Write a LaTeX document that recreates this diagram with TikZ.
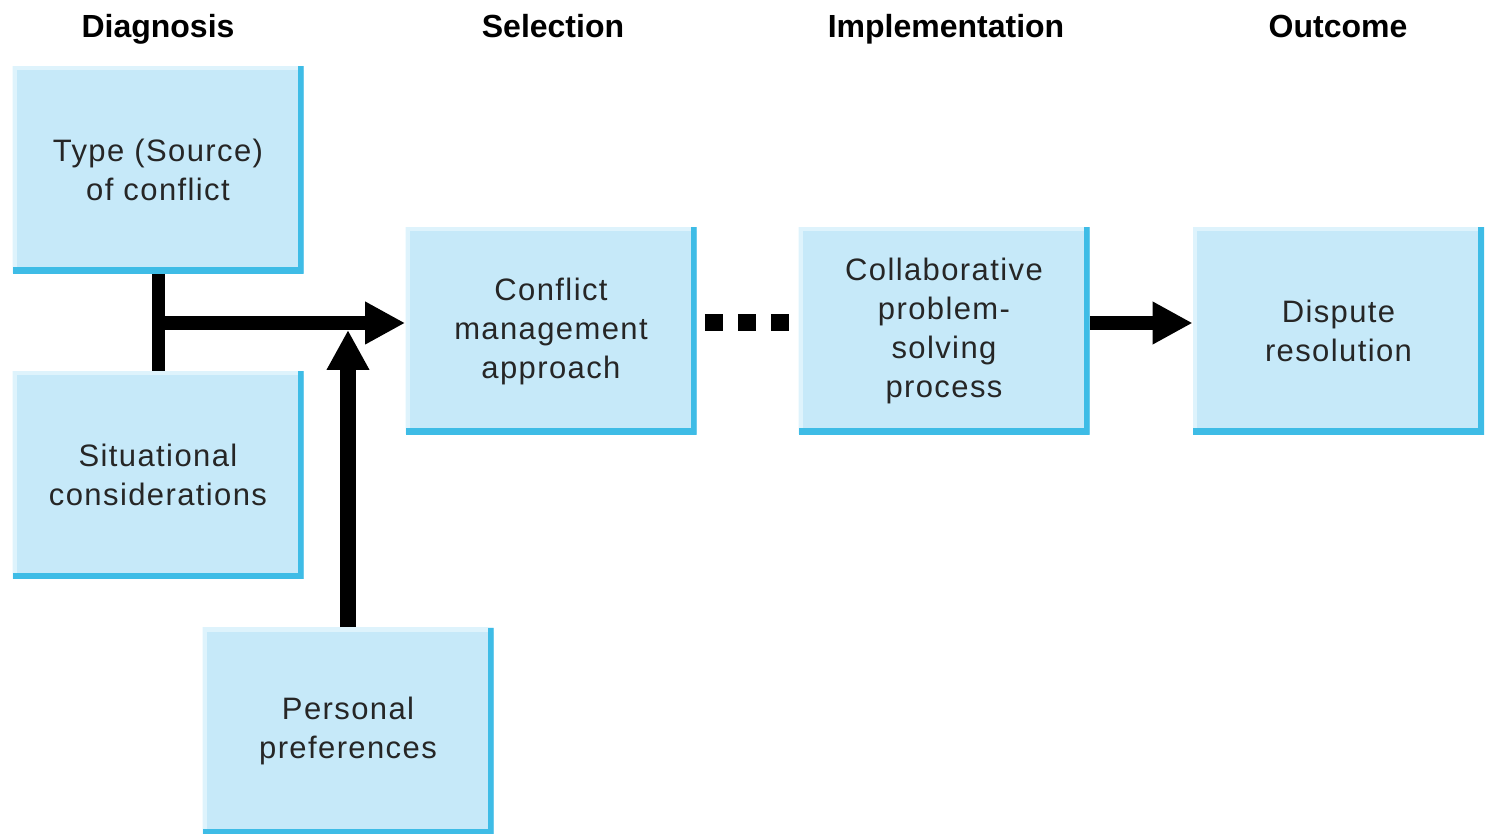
\documentclass[tikz,border=0pt]{standalone}
\usepackage{fontspec}
\setmainfont{Liberation Sans}
\newfontfamily\boxfont[LetterSpace=4.5]{Liberation Sans}
\usetikzlibrary{arrows.meta}
\definecolor{panelfill}{RGB}{198,233,249}
\definecolor{paneledge}{RGB}{62,188,230}
\definecolor{panelhi}{RGB}{222,243,252}
\tikzset{
  panel/.style={fill=panelfill, minimum width=145.5pt, minimum height=103.5pt, inner sep=0pt,
    align=center, text=black!85, font=\boxfont\fontsize{15.5}{19.5}\selectfont,
    path picture={
      \draw[panelhi,line width=4pt] (path picture bounding box.south west) -- (path picture bounding box.north west) -- (path picture bounding box.north east);
      \draw[paneledge,line width=6pt] (path picture bounding box.north east) -- (path picture bounding box.south east) -- (path picture bounding box.south west);}},
  heading/.style={anchor=base, font=\bfseries\fontsize{16}{19}\selectfont},
  flow/.style={line width=7pt, -{Triangle[length=20pt,width=20pt]}}
}
\begin{document}
\begin{tikzpicture}[x=0.5pt,y=-0.5pt]
  \useasboundingbox (0,0) rectangle (1485,834);
  \node[heading] (diag) at (158,38) {Diagnosis};
  \node[heading] (sel) at (553,38) {Selection};
  \node[heading] (impl) at (946,38) {Implementation};
  \node[heading] (outc) at (1338,38) {Outcome};
  \node[panel] (type) at (158,170) {Type (Source)\\of conflict};
  \node[panel] (situ) at (158,475) {Situational\\considerations};
  \node[panel] (personal) at (348,731) {Personal\\preferences};
  \node[panel] (conflict) at (551,331) {Conflict\\management\\approach};
  \node[panel] (collab) at (944,331) {Collaborative\\problem-\\solving\\process};
  \node[panel] (dispute) at (1338.5,331) {Dispute\\resolution};
  \coordinate (fork) at (158,323);
  \coordinate (joint) at (348,330);
  \draw[line width=6.5pt] (type.south) -- (situ.north);
  \draw[flow] (fork) -- (conflict.west |- fork);
  \draw[flow,line width=8pt] (personal.north) -- (joint);
  \draw[line width=8.5pt,dash pattern=on 9pt off 7.5pt,shorten <=4pt,shorten >=4pt] (conflict.east |- fork) -- (collab.west |- fork);
  \draw[flow] (collab.east |- fork) -- (dispute.west |- fork);
\end{tikzpicture}
\end{document}
